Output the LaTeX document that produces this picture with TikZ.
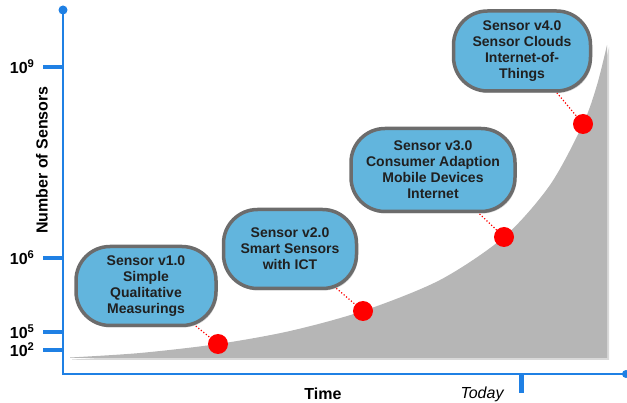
\documentclass[tikz,border=0pt]{standalone}
\usepackage{fontspec}
\setmainfont{Liberation Sans}
\usetikzlibrary{shadows,backgrounds}
\definecolor{axisblue}{HTML}{1F80E4}
\definecolor{boxblue}{HTML}{62B5DD}
\definecolor{boxrim}{HTML}{6C6C6C}
\definecolor{area}{HTML}{B6B6B6}
\definecolor{ink}{HTML}{202020}
\tikzset{ b/.style = { rectangle % sensor stage
, rounded corners = 34pt
, line width = 3.5pt
, draw = boxrim
, fill = boxblue
, align = center
, inner sep = 2pt
, text = ink
, font = \bfseries\fontsize{14}{16}\selectfont
, drop shadow = {opacity=0.3, shadow xshift=1.5pt, shadow yshift=-2pt}
}
, p/.style = { circle % point on curve
, fill = red
, minimum size = 20pt
, inner sep = 0pt
}
, l/.style = { red % link
, dotted
, line width = 1.2pt
}
, ax/.style = { axisblue % axis
, line width = 2pt
}
}
\def\ytick(#1)#2{% tick on y axis
\draw[axisblue, line width=4.5pt] (43,#1) -- (63,#1);
\node[anchor=east, font=\bfseries\fontsize{16}{16}\selectfont] (y#2) at (38,#1) {10\textsuperscript{#2}};
}

\begin{document}
\begin{tikzpicture}[x=1pt, y=-1pt]
                    \useasboundingbox (0,0) rectangle (627,403);
                    \coordinate (ytop) at (63,10);
                    \coordinate (o) at (63,374);
                    \coordinate (xend) at (626,374);
                    \draw[ax] (ytop) -- (o) -- (xend);
                    \fill[axisblue] (ytop) circle (4.5);
                    \fill[axisblue] (xend) circle (4);
                    \draw[axisblue, line width=5pt] (521,374) -- (521,393);

                    \ytick(67){9}
                    \ytick(258){6}
                    \ytick(332){5}
                    \ytick(350){2}

                    \node[rotate=90, font=\bfseries\fontsize{16}{16}\selectfont] (ylab) at (42,160) {Number of Sensors};
                    \node[font=\bfseries\fontsize{16}{16}\selectfont] (xlab) at (323,394) {Time};
                    \node[font=\itshape\fontsize{16}{16}\selectfont] (today) at (482,394) {Today};

                    \node[b, minimum width=140pt, minimum height=79pt] (b1) at (146,286) {Sensor v1.0\\Simple\\Qualitative\\Measurings};
                    \node[b, minimum width=133pt, minimum height=79pt] (b2) at (290,249) {Sensor v2.0\\Smart Sensors\\with ICT};
                    \node[b, minimum width=164pt, minimum height=83pt] (b3) at (433,170) {Sensor v3.0\\Consumer Adaption\\Mobile Devices\\Internet};
                    \node[b, minimum width=137pt, minimum height=80pt] (b4) at (522,51) {Sensor v4.0\\Sensor Clouds\\Internet-of-\\Things};

                    \node[p] (p1) at (218,344) {};
                    \node[p] (p2) at (363,311) {};
                    \node[p] (p3) at (504,237) {};
                    \node[p] (p4) at (583,124) {};

                    \begin{scope}[on background layer]
                    \fill[area, drop shadow={opacity=0.3, shadow xshift=2pt, shadow yshift=-2pt}]
                        (70,358) -- plot[smooth] coordinates {(70,357.5) (140,353) (218,344) (290,331) (363,311) (440,280) (504,237) (550,185) (583,124) (597,85) (607,45)} -- (607,358) -- cycle;
                    \foreach \i in {1,...,4} \draw[l] (b\i.center) -- (p\i.center);
                    \end{scope}
                \end{tikzpicture}
\end{document}
